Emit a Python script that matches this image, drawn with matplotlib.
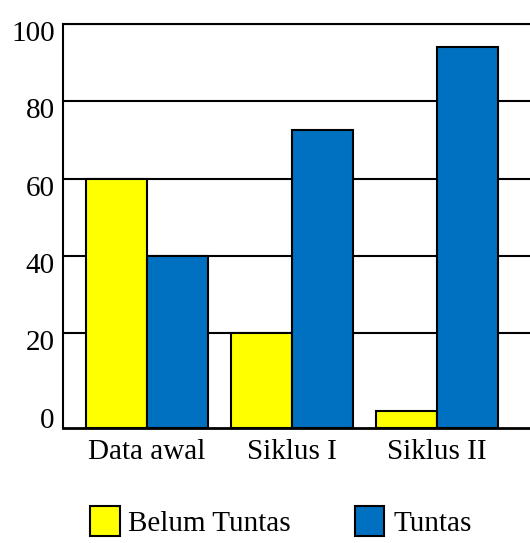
import matplotlib.pyplot as plt
from matplotlib.patches import Patch
from matplotlib.transforms import ScaledTranslation

categories = ['Data awal', 'Siklus I', 'Siklus II']
belum_tuntas = [60, 20, 0]
tuntas = [40, 72.5, 94]
yticks = [0, 20, 40, 60, 80, 100]

plt.rcParams['font.family'] = ['Liberation Serif', 'DejaVu Serif']

fig = plt.figure(figsize=(5.3, 5.43), dpi=100)
ax = fig.add_axes([63/530, 1 - 428/543, 1 - 63/530 + 0.01, (428 - 24)/543])

ymin = -4.5
w = 0.42
x = range(len(categories))
ax.bar([i - w/2 for i in x], [v - ymin for v in belum_tuntas], w, bottom=ymin,
       color='#FFFF00', edgecolor='black', linewidth=1.5, zorder=3)
ax.bar([i + w/2 for i in x], [v - ymin for v in tuntas], w, bottom=ymin,
       color='#0070C0', edgecolor='black', linewidth=1.5, zorder=3)

ax.set_ylim(ymin, 100)
ax.set_xlim(-0.58, 2.68)
ax.set_yticks(yticks)
ax.set_yticklabels([str(t) for t in yticks], fontsize=21)
ax.set_xticks(list(x))
ax.set_xticklabels(categories, fontsize=21)
ax.tick_params(length=0, pad=6)
ax.tick_params(axis='x', pad=8)
ax.grid(axis='y', color='black', linewidth=1.5, zorder=1)
ax.get_ygridlines()[0].set_visible(False)  # no line at 0
for lbl in ax.get_yticklabels():
    lbl.set_transform(lbl.get_transform() + ScaledTranslation(0, -5/72, fig.dpi_scale_trans))
for s in ['left', 'top']:
    ax.spines[s].set_linewidth(1.5)
ax.spines['bottom'].set_linewidth(2)
ax.spines['right'].set_visible(False)

handles = [Patch(facecolor='#FFFF00', edgecolor='black', linewidth=1.5),
           Patch(facecolor='#0070C0', edgecolor='black', linewidth=1.5)]
fig.legend(handles, ['Belum Tuntas', 'Tuntas'], loc='center', bbox_to_anchor=(0.53, 0.04),
           ncol=2, frameon=False, fontsize=21, handlelength=1.0, handleheight=1.2,
           handletextpad=0.3, columnspacing=2.2)

fig.savefig('out.png', dpi=100)
